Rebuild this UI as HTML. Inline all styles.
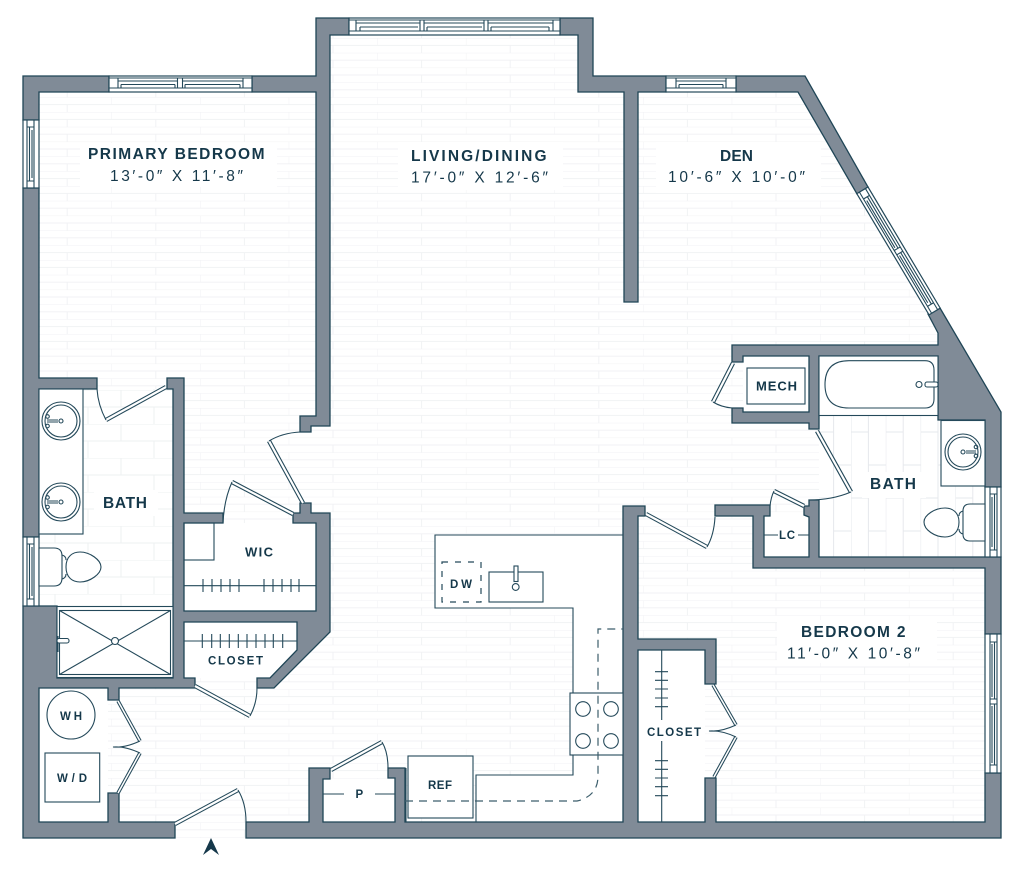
<!DOCTYPE html>
<html lang="en">
<head>
<meta charset="utf-8">
<title>Floor plan</title>
<style>
html,body{margin:0;padding:0;background:#fff;width:1024px;height:874px;overflow:hidden}
svg{display:block}
.w{fill:#808b97;stroke:#1f4556;stroke-width:1.3;stroke-linejoin:miter}
.l{fill:none;stroke:#24495a;stroke-width:1.1}
.lw{fill:#fff;stroke:#24495a;stroke-width:1.1}
.t{stroke:#24495a;stroke-width:1.1;fill:none}
.d1{fill:none;stroke:#24495a;stroke-width:4.4}
.d2{fill:none;stroke:#fff;stroke-width:2.2}
.b1{fill:none;stroke:#24495a;stroke-width:3.6}
.b2{fill:none;stroke:#fff;stroke-width:1.5}
.win{fill:#fff;stroke:#24495a;stroke-width:1.2}
.dash{fill:none;stroke:#3c5e6c;stroke-width:1.2;stroke-dasharray:8 6}
text{font-family:"Liberation Sans",sans-serif;fill:#15384a}
.h{font-size:15.5px;font-weight:700}
.s{font-size:15.5px;font-weight:400}
.m{font-size:13px;font-weight:700}
.n{font-size:11.5px;font-weight:700}
</style>
</head>
<body>
<svg width="1024" height="874" viewBox="0 0 1024 874" xmlns="http://www.w3.org/2000/svg">
<defs>
<pattern id="brick" patternUnits="userSpaceOnUse" x="377.3" y="38" width="88.6" height="14.8">
<path d="M0 0H88.6M0 7.4H88.6M0 0V7.4M44.3 7.4V14.8" fill="none" stroke="#f1f2f4" stroke-width="1"/>
</pattern>
<pattern id="tileW" patternUnits="userSpaceOnUse" x="39" y="390" width="66" height="34">
<path d="M0 0H66M0 17H66M16 0V17M49 17V34" fill="none" stroke="#eef0f2" stroke-width="1"/>
</pattern>
<pattern id="tileE" patternUnits="userSpaceOnUse" x="851" y="416" width="34.8" height="66">
<path d="M0 0V66M17.4 0V66M0 16H17.4M17.4 49H34.8" fill="none" stroke="#e6e8ec" stroke-width="1"/>
</pattern>
</defs>

<rect width="1024" height="874" fill="#fff"/>
<polygon points="23,76 316,76 316,18 593,18 593,76 805,76 1001,412 1001,838 23,838" fill="url(#brick)"/>

<!-- label halos -->
<rect x="80" y="143" width="197" height="44" fill="#fff"/>
<rect x="398" y="142" width="165" height="48" fill="#fff"/>
<rect x="656" y="142" width="165" height="51" fill="#fff"/>
<rect x="777" y="620" width="160" height="43" fill="#fff"/>

<!-- tiled baths -->
<rect x="39" y="389" width="134" height="217" fill="#fff"/>
<rect x="39" y="389" width="134" height="217" fill="url(#tileW)"/>
<rect x="819" y="416" width="166" height="141" fill="#fff"/>
<rect x="819" y="416" width="166" height="141" fill="url(#tileE)"/>
<rect x="94" y="490" width="64" height="26" fill="#fff"/>
<rect x="862" y="472" width="64" height="26" fill="#fff"/>

<!-- white rooms -->
<rect x="743" y="356" width="66" height="56" fill="#fff"/>
<rect x="764" y="516" width="45" height="41" fill="#fff"/>
<rect x="184" y="523" width="132" height="88" fill="#fff"/>
<polygon points="184,622 297,622 297,650 270,678 184,678" fill="#fff"/>
<rect x="39" y="688" width="69" height="134" fill="#fff"/>
<rect x="323" y="779" width="72" height="43" fill="#fff"/>
<rect x="638" y="650" width="67" height="172" fill="#fff"/>
<polygon points="623,535 435,535 435,608 573,608 573,775 476,775 476,822 623,822" fill="#fff"/>

<!-- walls -->
<polygon class="w" points="23,76 109,76 109,92 39,92 39,120 23,120"/>
<polygon class="w" points="252,76 316,76 316,18 349,18 349,35 330,35 330,426 311,426 311,432 300,432 300,416 316,416 316,92 252,92"/>
<polygon class="w" points="560,18 593,18 593,76 666,76 666,92 638,92 638,302 624,302 624,92 578,92 578,35 560,35"/>
<polygon class="w" points="736,76 805,76 868,187 857,194 798,92 736,92"/>
<polygon class="w" points="732,345 938,345 938,333 928,314 940,308 1001,412 1001,487 985,487 985,420 938,420 938,356 819,356 819,429 809,429 809,423 732,423 732,408 743,408 743,412 809,412 809,356 743,356 743,362 732,362"/>
<polygon class="w" points="809,500 819,500 819,557 1001,557 1001,634 985,634 985,568 753,568 753,516 715,516 715,505 770,505 770,516 764,516 764,557 809,557 809,517 804,515 804,506 809,506"/>
<polygon class="w" points="623,506 645,506 645,516 638,516 638,639 716,639 716,684 705,684 705,650 638,650 638,822 705,822 705,778 716,778 716,822 985,822 985,773 1001,773 1001,838 246,838 246,822 309,822 309,768 330,768 330,779 323,779 323,822 395,822 395,778 388,778 388,768 405,768 405,822 623,822"/>
<polygon class="w" points="23,188 39,188 39,378 97,378 97,389 39,389 39,537 23,537"/>
<polygon class="w" points="23,606 57,606 57,678 173,678 173,389 167,389 167,378 184,378 184,513 223,513 223,523 184,523 184,611 316,611 316,523 293,523 293,513 300,513 300,503 311,503 311,513 330,513 330,632 274,688 257,688 257,678 270,678 297,650 297,622 184,622 184,678 195,678 195,688 119,688 119,700 108,700 108,688 39,688 39,822 108,822 108,793 119,793 119,822 175,822 175,838 23,838"/>

<!-- windows -->
<g transform="translate(109,76)">
<rect class="win" width="143" height="16"/>
<path class="t" d="M0 2H143M0 12H143M9 2V12M134 2V12M68.5 2V12M73.5 2V12M9 5H68.5M73.5 5H134M12 8.5H66M76 8.5H131M12 8.5V12M66 8.5V12M76 8.5V12M131 8.5V12"/>
</g>
<g transform="translate(349,18)">
<rect class="win" width="211" height="17"/>
<path class="t" d="M0 2H211M0 13H211M7 2V13M204 2V13M71 2V13M75 2V13M135 2V13M139 2V13M7 5H71M75 5H135M139 5H204M11 9H69M78 9H133M142 9H200M11 9V13M78 9V13M142 9V13M200 9V13"/>
</g>
<g transform="translate(666,76)">
<rect class="win" width="70" height="16"/>
<path class="t" d="M0 2H70M0 12H70M10 2V12M60 2V12M10 5H60M13 8.5H57M13 8.5V12M57 8.5V12"/>
</g>
<g transform="translate(23,188) rotate(-90)">
<rect class="win" width="68" height="16"/>
<path class="t" d="M0 4H68M0 11H68M7 4V11M61 4V11M7 6.5H61M10 9H58"/>
</g>
<g transform="translate(23,606) rotate(-90)">
<rect class="win" width="69" height="16"/>
<path class="t" d="M0 4H69M0 11H69M7 4V11M62 4V11M7 6.5H62M10 9H59"/>
</g>
<g transform="translate(1001,487) rotate(90)">
<rect class="win" width="70" height="16"/>
<path class="t" d="M0 4H70M0 11H70M7 4V11M63 4V11M7 6.5H63M10 9H60"/>
</g>
<g transform="translate(1001,634) rotate(90)">
<rect class="win" width="139" height="16"/>
<path class="t" d="M0 4H139M0 11H139M8 4V11M131 4V11M65 4V11M70 4V11M8 6.5H65M70 6.5H131M10 9H63M72 9H129"/>
</g>
<g transform="translate(868,187) rotate(59.2)">
<rect class="win" width="141" height="13"/>
<path class="t" d="M0 3H141M0 10H141M8 3V10M133 3V10M68 3V10M73 3V10M8 5.5H68M73 5.5H133M11 8H66M75 8H130"/>
</g>

<!-- doors -->
<g>
<path class="d1" d="M166,387 L106,420"/><path class="d2" d="M166,387 L106,420"/>
<path class="d1" d="M303,503 L269,441"/><path class="d2" d="M303,503 L269,441"/>
<path class="d1" d="M293,514 L232,482"/><path class="d2" d="M293,514 L232,482"/>
<path class="d1" d="M195,686 L250,716"/><path class="d2" d="M195,686 L250,716"/>
<path class="d1" d="M175,824 L238,790"/><path class="d2" d="M175,824 L238,790"/>
<path class="d1" d="M331,770 L382,742"/><path class="d2" d="M331,770 L382,742"/>
<path class="d1" d="M733,363 L713,402"/><path class="d2" d="M733,363 L713,402"/>
<path class="d1" d="M817,431 L851,492"/><path class="d2" d="M817,431 L851,492"/>
<path class="d1" d="M804,506 L774,491"/><path class="d2" d="M804,506 L774,491"/>
<path class="d1" d="M646,514 L707,547"/><path class="d2" d="M646,514 L707,547"/>
<path class="b1" d="M118,701 L140,741"/><path class="b2" d="M118,701 L140,741"/>
<path class="b1" d="M140,753 L118,793"/><path class="b2" d="M140,753 L118,793"/>
<path class="b1" d="M713,685 L736,725"/><path class="b2" d="M713,685 L736,725"/>
<path class="b1" d="M736,737 L714,777"/><path class="b2" d="M736,737 L714,777"/>
</g>
<path class="l" d="M106,420 Q98,405 97,389"/>
<path class="l" d="M269,441 Q282,433 300,432"/>
<path class="l" d="M232,482 Q224,500 223,523"/>
<path class="l" d="M250,716 Q257,703 257,688"/>
<path class="l" d="M238,790 Q246,803 246,822"/>
<path class="l" d="M382,742 Q388,752 388,768"/>
<path class="l" d="M713,402 Q721,407 732,408"/>
<path class="l" d="M851,492 Q832,500 809,500"/>
<path class="l" d="M774,491 Q771,497 770,506"/>
<path class="l" d="M707,547 Q714,535 715,517"/>
<path class="l" d="M140,741 Q125,748 113,747 Q125,746 140,753"/>
<path class="l" d="M736,725 Q721,732 709,731 Q721,730 736,737"/>

<!-- west bath fixtures -->
<rect class="lw" x="39" y="389" width="44" height="145"/>
<circle class="lw" cx="61" cy="421" r="19"/><circle class="l" cx="61" cy="421" r="16"/>
<circle class="l" cx="61" cy="421" r="2"/>
<circle class="l" cx="47.5" cy="416.5" r="1.8"/><circle class="l" cx="47.5" cy="426" r="1.8"/>
<path class="t" d="M47,420H58M47,422H58"/>
<circle class="lw" cx="61" cy="502" r="19"/><circle class="l" cx="61" cy="502" r="16"/>
<circle class="l" cx="61" cy="502" r="2"/>
<circle class="l" cx="47.5" cy="497.5" r="1.8"/><circle class="l" cx="47.5" cy="507" r="1.8"/>
<path class="t" d="M47,501H58M47,503H58"/>
<path class="lw" d="M39,548H54Q62,548 62,556V578Q62,586 54,586H39Z"/>
<path class="t" d="M62,555Q66,556 66,560M62,579Q66,578 66,574"/>
<path class="lw" d="M66,567C66,556 73,552 80,552C90,552 101,560 101,567C101,574 90,582 80,582C73,582 66,578 66,567Z"/>

<!-- shower -->
<rect class="lw" x="57" y="606.5" width="116" height="71"/>
<rect class="lw" x="59.5" y="610.5" width="111" height="64"/>
<path class="t" d="M59.5,610.5L170.5,674.5M170.5,610.5L59.5,674.5"/>
<circle class="lw" cx="115" cy="641" r="3.5"/>
<path class="t" d="M58,636V652"/>
<rect class="lw" x="57" y="638.5" width="12" height="4.5" rx="2"/>

<!-- WIC + closet -->
<rect class="l" x="184" y="523" width="30" height="37"/>
<path class="t" d="M184,585.7H316M203,579V592M212,579V592M221,579V592M230,579V592M239,579V592M264,579V592M273,579V592M282,579V592M291,579V592M299,579V592"/>
<path class="t" d="M184,641H297M202.3,634V648M211.7,634V648M220.3,634V648M229.3,634V648M238.3,634V648M247,634V648M256,634V648M265,634V648M273.3,634V648M282.7,634V648"/>

<!-- laundry -->
<circle class="l" cx="71" cy="715" r="24"/>
<rect class="l" x="45" y="753" width="54.7" height="49"/>

<!-- kitchen -->
<path class="l" d="M623,535H435V608H573V693"/>
<path class="l" d="M573,755V775H476V822"/>
<rect class="lw" x="570" y="693" width="53" height="62"/>
<circle class="l" cx="583" cy="709" r="7.3"/><circle class="l" cx="611" cy="709" r="7.3"/>
<circle class="l" cx="583" cy="741" r="7.3"/><circle class="l" cx="611" cy="741" r="7.3"/>
<rect class="lw" x="408" y="756" width="65" height="62"/>
<path class="l" d="M406,768V822"/>
<rect class="l" x="489" y="572" width="54" height="30"/>
<rect class="lw" x="514" y="566" width="4" height="15.5"/>
<circle class="lw" cx="515.7" cy="587" r="3.4"/>
<rect x="442" y="562" width="39" height="40" fill="none" stroke="#24495a" stroke-width="1.2" stroke-dasharray="6 7"/>
<path class="dash" d="M405,801H577Q598,796 598,776V629H623"/>

<!-- pantry -->
<path class="t" d="M323,794H344M375,794H395"/>

<!-- mech + tub -->
<rect class="l" x="747" y="368" width="58" height="36"/>
<rect class="lw" x="819" y="356" width="119" height="59.5"/>
<path class="l" d="M849,360.7H925Q934,360.7 934,370V399Q934,408 925,408H849Q825,408 825,384.5Q825,360.7 849,360.7Z"/>
<circle class="l" cx="919" cy="384.5" r="3"/>
<rect class="lw" x="925" y="382" width="13" height="5" rx="2"/>

<!-- east bath fixtures -->
<rect class="lw" x="941" y="420.5" width="44" height="65.5"/>
<circle class="lw" cx="963" cy="452" r="18"/><circle class="l" cx="963" cy="452" r="15"/>
<circle class="l" cx="963" cy="452" r="2"/>
<circle class="l" cx="976" cy="447" r="1.8"/><circle class="l" cx="976" cy="456" r="1.8"/>
<path class="t" d="M966,451H976M966,453H976"/>
<path class="lw" d="M985,504H970Q963,504 963,511V534Q963,541 970,541H985Z"/>
<path class="t" d="M963,511Q959,512 959,516M963,534Q959,533 959,529"/>
<path class="lw" d="M959,522C959,512 952,508 945,508C935,508 924,515 924,522C924,530 935,537 945,537C952,537 959,533 959,522Z"/>

<!-- LC -->
<path class="t" d="M764,535H778M798,535H809"/>

<!-- bedroom 2 closet -->
<path class="t" d="M661.7,650V720M661.7,741V822"/>
<path class="t" d="M655,671.7H668M655,680.3H668M655,689H668M655,698H668M655,706.7H668M655,760.7H668M655,769.3H668M655,778H668M655,786.7H668M655,795.7H668"/>

<!-- north arrow -->
<polygon points="211,838 219,855 211,849 203,855" fill="#15384a"/>

<!-- labels -->
<text class="h" x="88" y="159" textLength="176.5" lengthAdjust="spacing">PRIMARY BEDROOM</text>
<text class="s" x="110" y="181" textLength="133" lengthAdjust="spacing">13′-0″ X 11′-8″</text>
<text class="h" x="411" y="161" textLength="135.5" lengthAdjust="spacing">LIVING/DINING</text>
<text class="s" x="411" y="182.5" textLength="137" lengthAdjust="spacing">17′-0″ X 12′-6″</text>
<text class="h" x="720" y="161" textLength="33" lengthAdjust="spacing">DEN</text>
<text class="s" x="668" y="182" textLength="137" lengthAdjust="spacing">10′-6″ X 10′-0″</text>
<text class="h" x="801" y="637" textLength="104.5" lengthAdjust="spacing">BEDROOM 2</text>
<text class="s" x="787" y="658.5" textLength="133" lengthAdjust="spacing">11′-0″ X 10′-8″</text>
<text class="h" x="103" y="508" textLength="44" lengthAdjust="spacing">BATH</text>
<text class="h" x="870" y="489" textLength="46" lengthAdjust="spacing">BATH</text>
<text class="m" x="245" y="556.5" textLength="28" lengthAdjust="spacing">WIC</text>
<text class="n" x="208" y="664.5" textLength="55" lengthAdjust="spacing">CLOSET</text>
<text class="n" x="60" y="720" textLength="22" lengthAdjust="spacing">WH</text>
<text class="n" x="57" y="782" textLength="30" lengthAdjust="spacing">W/D</text>
<text class="n" x="450" y="588" textLength="22" lengthAdjust="spacing">DW</text>
<text class="n" x="355.5" y="798" textLength="7" lengthAdjust="spacing">P</text>
<text class="n" x="428" y="789" textLength="24" lengthAdjust="spacing">REF</text>
<text class="m" x="756" y="390.5" textLength="41" lengthAdjust="spacing">MECH</text>
<text class="n" x="779" y="539" textLength="16" lengthAdjust="spacing">LC</text>
<text class="n" x="647" y="736" textLength="54" lengthAdjust="spacing">CLOSET</text>
</svg>
</body>
</html>
